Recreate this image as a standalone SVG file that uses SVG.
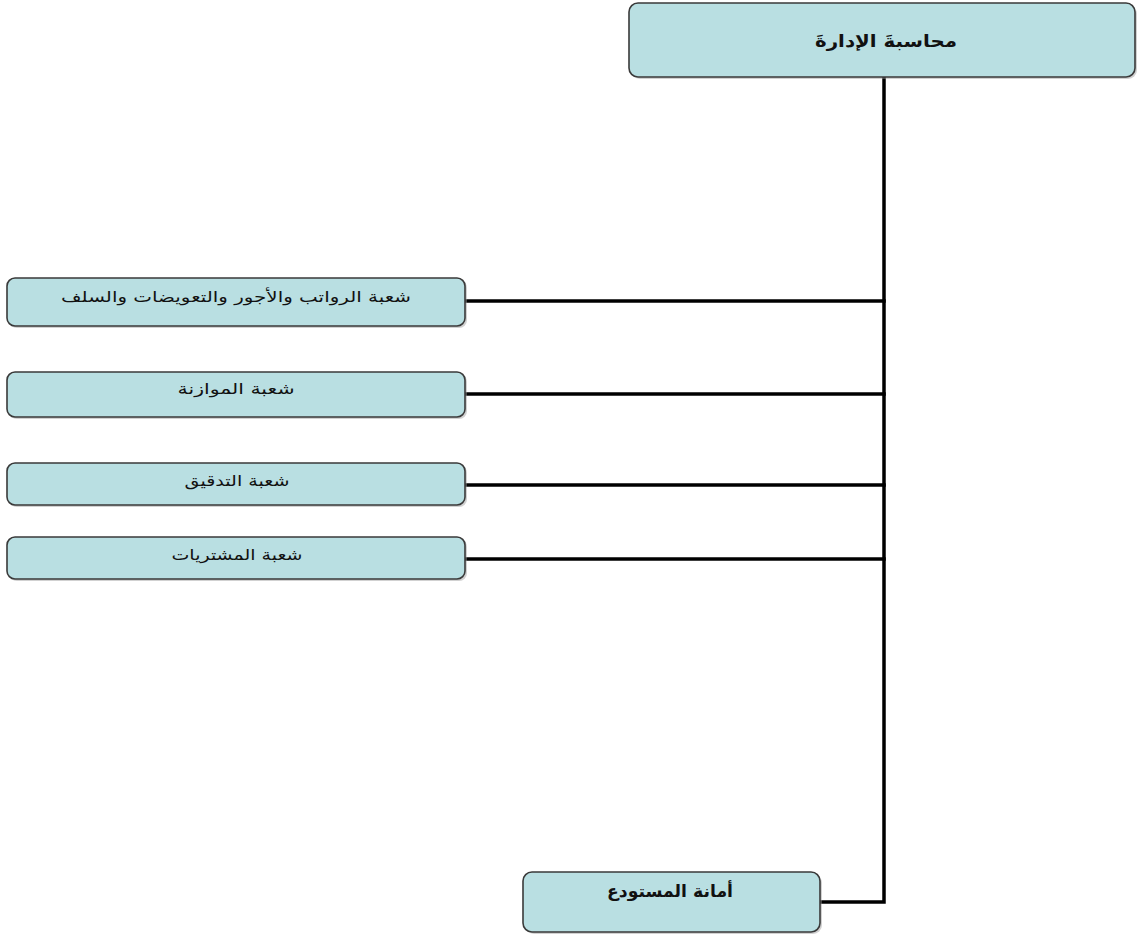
<svg xmlns="http://www.w3.org/2000/svg" width="1137" height="935" viewBox="0 0 1137 935">
  <style>
    .box { fill: #b9dfe2; stroke: #3a3a3a; stroke-width: 1.6; }
    .shadow { fill: #9a9a9a; opacity: 0.45; }
    .link { fill: none; stroke: #000; stroke-width: 3.5; stroke-linecap: square; }
    .lbl { font-family: "DejaVu Sans", sans-serif; font-size: 15px; fill: #111; text-anchor: middle; direction: rtl; }
    .bold { font-weight: bold; font-size: 17px; }
  </style>
  <rect width="1137" height="935" fill="#fff"/>

  <!-- connectors -->
  <g id="connectors">
    <path class="link" d="M884 77 V902 H820"/>
    <path class="link" d="M466 301 H884"/>
    <path class="link" d="M466 394 H884"/>
    <path class="link" d="M466 485 H884"/>
    <path class="link" d="M466 559 H884"/>
  </g>

  <g id="management-accounting">
    <rect class="shadow" x="631" y="5" width="506" height="74" rx="9"/>
    <rect class="box" x="629" y="3" width="506" height="74" rx="9"/>
    <text class="lbl bold" x="886" y="47" textLength="142" lengthAdjust="spacingAndGlyphs">محاسبةَ الإدارةَ</text>
  </g>

  <g id="payroll">
    <rect class="shadow" x="9" y="280" width="458" height="48" rx="8"/>
    <rect class="box" x="7" y="278" width="458" height="48" rx="8"/>
    <text class="lbl" x="236" y="302" textLength="350" lengthAdjust="spacingAndGlyphs">شعبة الرواتب والأجور والتعويضات والسلف</text>
  </g>

  <g id="budget">
    <rect class="shadow" x="9" y="374" width="458" height="45" rx="8"/>
    <rect class="box" x="7" y="372" width="458" height="45" rx="8"/>
    <text class="lbl" x="236" y="394" textLength="117" lengthAdjust="spacingAndGlyphs">شعبة الموازنة</text>
  </g>

  <g id="audit">
    <rect class="shadow" x="9" y="465" width="458" height="42" rx="8"/>
    <rect class="box" x="7" y="463" width="458" height="42" rx="8"/>
    <text class="lbl" x="237" y="486" textLength="105" lengthAdjust="spacingAndGlyphs">شعبة التدقيق</text>
  </g>

  <g id="purchasing">
    <rect class="shadow" x="9" y="539" width="458" height="42" rx="8"/>
    <rect class="box" x="7" y="537" width="458" height="42" rx="8"/>
    <text class="lbl" x="237" y="560" textLength="131" lengthAdjust="spacingAndGlyphs">شعبة المشتريات</text>
  </g>

  <g id="warehouse">
    <rect class="shadow" x="525" y="874" width="297" height="60" rx="9"/>
    <rect class="box" x="523" y="872" width="297" height="60" rx="9"/>
    <text class="lbl bold" x="670" y="897" textLength="126" lengthAdjust="spacingAndGlyphs">أمانة المستودع</text>
  </g>
</svg>
